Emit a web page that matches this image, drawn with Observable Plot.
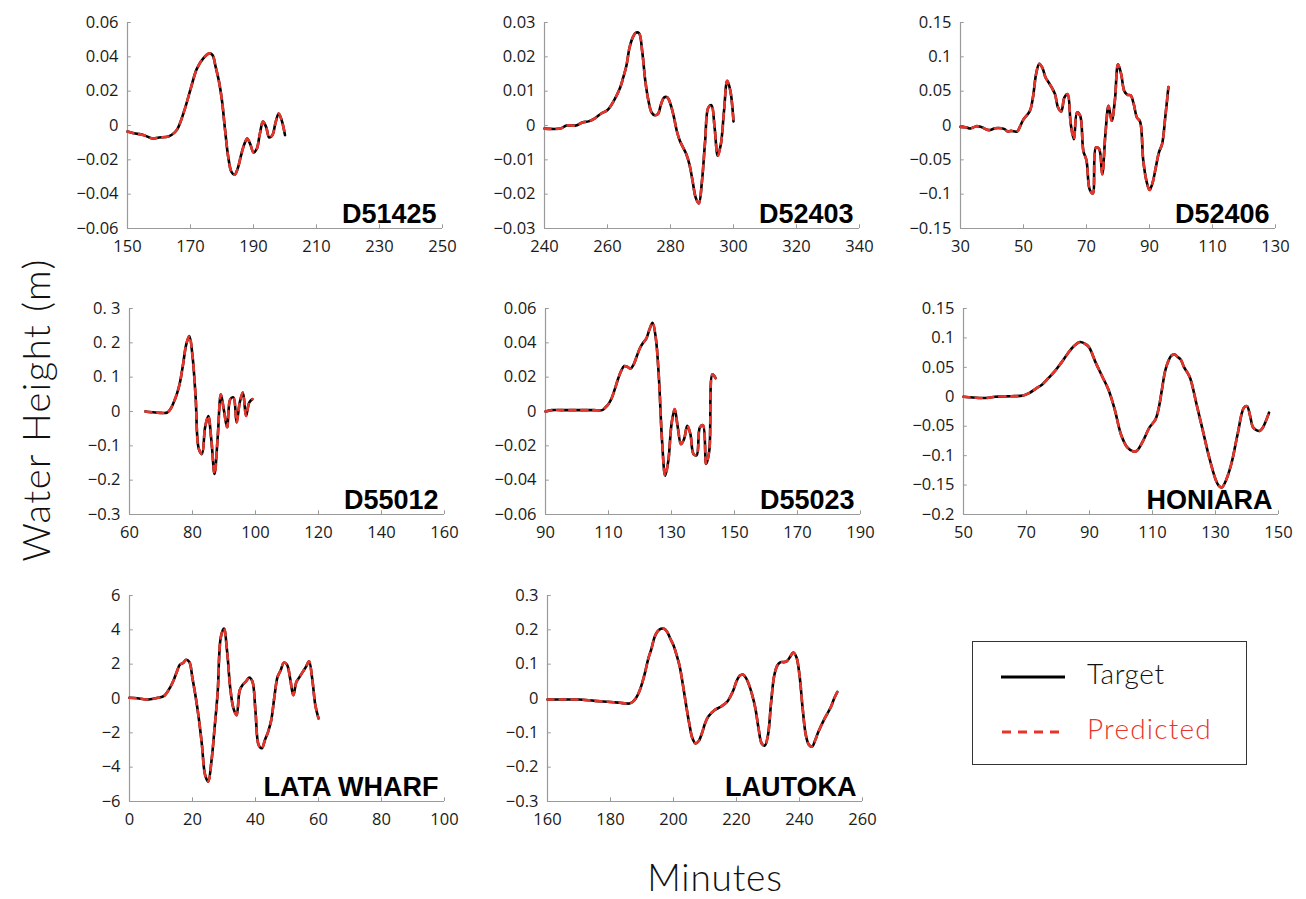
<!DOCTYPE html>
<html>
<head>
<meta charset="utf-8">
<script src="https://cdn.jsdelivr.net/npm/d3@7"></script>
<script src="https://cdn.jsdelivr.net/npm/@observablehq/plot@0.6"></script>
<style>
  html, body { margin: 0; padding: 0; background: #fff; }
  #root { position: relative; width: 1306px; height: 899px; overflow: hidden; font-family: "Open Sans", sans-serif; }
  .panel { position: absolute; }
  .ytitle { position: absolute; left: 36px; top: 410px; transform: translate(-50%, -50%) rotate(-90deg); transform-origin: center; white-space: nowrap; font-family: Lato, "Open Sans", sans-serif; font-weight: 300; font-size: 38px; letter-spacing: 1.5px; color: #111; line-height: 1.1; }
  .xtitle { position: absolute; left: 715px; top: 877px; transform: translate(-50%, -50%); white-space: nowrap; font-family: Lato, "Open Sans", sans-serif; font-weight: 300; font-size: 37px; letter-spacing: 0.8px; color: #111; line-height: 1.05; }
  .legend { position: absolute; left: 972px; top: 641px; width: 275px; height: 124px; border: 1.5px solid #333; box-sizing: border-box; background: #fff; }
</style>
</head>
<body>
<div id="root"></div>
<script>
// ---------- DATA ----------
const names = ["D51425", "D52403", "D52406", "D55012", "D55023", "HONIARA", "LATA WHARF", "LAUTOKA"];

const t_D51425 = [150,152,155,158,160,163,165,166,168,170,172,174,176,177,178,179,180,181,182,183,184,185,186,187,188,189,190,191,192,193,194,195,196,197,198,199,200];
const h_D51425 = [-0.0035,-0.0045,-0.0055,-0.0076,-0.007,-0.0064,-0.004,-0.0015,0.0085,0.021,0.033,0.039,0.042,0.041,0.034,0.026,0.0144,-0.003,-0.0186,-0.027,-0.0287,-0.025,-0.0177,-0.0113,-0.0076,-0.011,-0.0157,-0.0138,-0.005,0.0023,-0.0008,-0.007,-0.0056,0.0017,0.007,0.0027,-0.0056];

const t_D52403 = [240,245,247,250,252,254,256,258,260,262,264,265,266,267,268,269,270,271,272,273,274,275,276,277,278,279,280,281,282,283,284,285,286,287,288,289,290,291,292,293,294,295,296,297,298,299,300];
const h_D52403 = [-0.0009,-0.0009,0,0,0.0009,0.0012,0.0021,0.0035,0.0045,0.0072,0.011,0.014,0.0174,0.0227,0.0256,0.027,0.0269,0.0217,0.013,0.0072,0.0038,0.003,0.0033,0.0062,0.0082,0.0082,0.0062,0.0028,-0.0016,-0.0045,-0.0064,-0.0083,-0.0113,-0.0161,-0.021,-0.0227,-0.0161,-0.0045,0.0052,0.0059,-0.0006,-0.0088,-0.0054,0.0043,0.013,0.0101,0.0012];

const t_D52406 = [30,32,33,35,36,37,39,41,43,44,45,46,48,49,50,52,53,54,55,56,57,58,59,60,61,62,63,64,65,66,67,68,69,70,71,72,73,74,75,76,77,78,79,80,81,82,83,84,85,86,87,88,89,90,91,92,93,94,95,96];
const h_D52406 = [-0.002,-0.003,-0.0044,-0.001,-0.0015,-0.003,-0.0068,-0.004,-0.004,-0.0053,-0.0087,-0.0078,-0.0087,-0.0005,0.009,0.021,0.041,0.075,0.09,0.084,0.07,0.0626,0.055,0.0456,0.026,0.0204,0.041,0.0456,0.002,-0.02,0.019,0.014,-0.037,-0.051,-0.093,-0.099,-0.032,-0.034,-0.071,-0.0126,0.0286,0.0068,0.036,0.089,0.075,0.05,0.0447,0.044,0.031,0.0117,0.0058,-0.05,-0.08,-0.094,-0.083,-0.061,-0.039,-0.027,0.0117,0.056];

const t_D55012 = [65,67,70,72,73,74,75,76,77,78,79,80,81,82,83,84,85,86,87,88,89,90,91,92,93,94,95,96,97,98,99];
const h_D55012 = [0,-0.002,-0.004,-0.003,0.007,0.026,0.05,0.084,0.137,0.195,0.22,0.162,0.041,-0.109,-0.124,-0.046,-0.013,-0.085,-0.182,-0.075,0.05,0.002,-0.046,0.036,0.041,-0.032,0.026,0.055,-0.013,0.026,0.036];

const t_D55023 = [90,92,95,100,105,108,109,110,111,112,113,114,115,116,117,118,119,120,121,122,123,124,125,126,127,128,129,130,131,132,133,134,135,136,137,138,139,140,141,142,143,144];
const h_D55023 = [0,0.0008,0.0008,0.0008,0.0008,0.0008,0.0023,0.0043,0.0077,0.013,0.0188,0.0236,0.0265,0.026,0.025,0.0275,0.0323,0.037,0.04,0.0424,0.0478,0.0517,0.043,0.0197,-0.017,-0.0374,-0.0286,-0.0074,0.0014,-0.0093,-0.019,-0.016,-0.0083,-0.0132,-0.0248,-0.0254,-0.0093,-0.008,-0.0306,-0.0228,0.0217,0.0194];

const t_HONIARA = [50,55,58,60,65,69,71,73,75,77,79,81,83,85,87,89,90,92,94,96,98,100,102,104,105,107,109,111,112,113,114,115,116,117,118,119,120,121,122,124,126,128,130,131,132,133,135,137,139,140,141,142,144,145,147];
const h_HONIARA = [0,-0.002,-0.0017,0,0.001,0.002,0.0068,0.014,0.021,0.032,0.0435,0.0576,0.0728,0.0858,0.093,0.0886,0.083,0.0576,0.035,0.0124,-0.0214,-0.064,-0.086,-0.093,-0.092,-0.075,-0.0525,-0.038,-0.0186,0.0124,0.0435,0.0604,0.07,0.0717,0.0677,0.063,0.0503,0.0418,0.031,-0.013,-0.058,-0.103,-0.14,-0.151,-0.154,-0.146,-0.1146,-0.064,-0.0186,-0.0158,-0.0327,-0.0525,-0.058,-0.0525,-0.027];

const t_LATA = [0,3,6,9,11,13,14,15,16,17,18,19,20,21,22,23,24,25,26,27,28,29,30,31,32,33,34,35,36,37,38,39,40,41,42,43,44,45,46,47,48,49,50,51,52,53,54,55,56,57,58,59,60];
const h_LATA = [0.04,0,-0.06,0.04,0.15,0.68,1.06,1.55,1.97,2.07,2.26,2.13,1.16,0.1,-1.16,-2.71,-4.45,-4.84,-3.68,-1.74,0.39,3.58,4.07,2.71,0.58,-0.58,-0.97,0.48,0.81,1.0,1.22,1.0,-0.77,-2.71,-2.9,-2.42,-1.94,-1.26,0.1,1.26,1.65,2.09,1.97,1.16,0.19,0.97,1.26,1.55,1.84,2.17,1.16,-0.39,-1.16];

const t_LAUTOKA = [160,165,170,175,180,183,185,186,187,188,189,190,191,192,193,194,195,196,197,198,199,200,201,202,203,204,205,206,207,208,209,210,211,213,215,217,218,219,220,221,222,223,224,225,226,227,228,229,230,231,232,233,234,235,236,237,238,239,240,241,242,243,244,245,246,248,250,251,252];
const h_LAUTOKA = [-0.003,-0.003,-0.003,-0.007,-0.01,-0.0126,-0.0145,-0.0145,-0.01,0,0.0174,0.0436,0.077,0.116,0.145,0.179,0.196,0.203,0.203,0.194,0.174,0.155,0.126,0.092,0.039,-0.019,-0.073,-0.116,-0.131,-0.124,-0.102,-0.073,-0.053,-0.034,-0.024,-0.01,0.005,0.024,0.05,0.066,0.07,0.06,0.039,0.01,-0.029,-0.087,-0.131,-0.137,-0.106,-0.01,0.068,0.097,0.106,0.106,0.109,0.121,0.134,0.121,0.068,-0.029,-0.106,-0.135,-0.14,-0.121,-0.097,-0.058,-0.024,0,0.019];

// predicted series overlap the targets in the picture
const times = [t_D51425, t_D52403, t_D52406, t_D55012, t_D55023, t_HONIARA, t_LATA, t_LAUTOKA];
const targets = [h_D51425, h_D52403, h_D52406, h_D55012, h_D55023, h_HONIARA, h_LATA, h_LAUTOKA];
const predicted = [h_D51425, h_D52403, h_D52406, h_D55012, h_D55023, h_HONIARA, h_LATA, h_LAUTOKA];

// axis ticks
const xTicks = [
  [150,170,190,210,230,250],
  [240,260,280,300,320,340],
  [30,50,70,90,110,130],
  [60,80,100,120,140,160],
  [90,110,130,150,170,190],
  [50,70,90,110,130,150],
  [0,20,40,60,80,100],
  [160,180,200,220,240,260]
];
const yTicks = [
  [-0.06,-0.04,-0.02,0,0.02,0.04,0.06],
  [-0.03,-0.02,-0.01,0,0.01,0.02,0.03],
  [-0.15,-0.1,-0.05,0,0.05,0.1,0.15],
  [-0.3,-0.2,-0.1,0,0.1,0.2,0.3],
  [-0.06,-0.04,-0.02,0,0.02,0.04,0.06],
  [-0.2,-0.15,-0.1,-0.05,0,0.05,0.1,0.15],
  [-6,-4,-2,0,2,4,6],
  [-0.3,-0.2,-0.1,0,0.1,0.2,0.3]
];
const yTickLabels = [
  ["−0.06","−0.04","−0.02","0","0.02","0.04","0.06"],
  ["−0.03","−0.02","−0.01","0","0.01","0.02","0.03"],
  ["−0.15","−0.1","−0.05","0","0.05","0.1","0.15"],
  ["−0.3","−0.2","−0.1","0","0. 1","0. 2","0. 3"],
  ["−0.06","−0.04","−0.02","0","0.02","0.04","0.06"],
  ["−0.2","−0.15","−0.1","−0.05","0","0.05","0.1","0.15"],
  ["−6","−4","−2","0","2","4","6"],
  ["−0.3","−0.2","−0.1","0","0.1","0.2","0.3"]
];
const legendLabels = ["Target", "Predicted"];

// ---------- LAYOUT (inner frame positions) ----------
const frames = [
  [126.5, 21.5], [543.5, 21.5], [960, 21.5],
  [128.5, 307.5], [545, 307.5], [962.5, 307.5],
  [129, 595], [546.5, 595]
];
const W = 315, H = 206;
const ml = 70, mr = 12, mt = 12, mb = 36;
const RED = "#e8352b";
const AX = "#9a9a9a";

const root = document.getElementById("root");

names.forEach((name, i) => {
  const data = times[i].map((t, j) => ({t, target: targets[i][j], pred: predicted[i][j]}));
  const xt = xTicks[i], yt = yTicks[i];
  const xmin = xt[0], xmax = xt[xt.length - 1];
  const ymin = yt[0], ymax = yt[yt.length - 1];
  const xspan = xmax - xmin, yspan = ymax - ymin;
  const plot = Plot.plot({
    width: W + ml + mr,
    height: H + mt + mb,
    marginLeft: ml, marginRight: mr, marginTop: mt, marginBottom: mb,
    style: {fontFamily: "'Open Sans', sans-serif", fontSize: "16.5px", color: "#1a1a1a", background: "transparent", overflow: "visible"},
    x: {domain: [xmin, xmax], ticks: xt, tickSize: 0, tickPadding: 12, tickFormat: d => String(d), label: null},
    y: {domain: [ymin, ymax], ticks: yt, tickSize: 0, tickPadding: 9, tickFormat: (d) => yTickLabels[i][yt.indexOf(d)], label: null},
    marks: [
      Plot.ruleX([xmin], {stroke: AX, strokeWidth: 1.2}),
      Plot.ruleY([ymin], {stroke: AX, strokeWidth: 1.2}),
      Plot.ruleX(xt.slice(1), {x: d => d, y1: ymin, y2: ymin + yspan * 0.018, stroke: AX}),
      Plot.ruleY(yt.slice(1), {y: d => d, x1: xmin, x2: xmin + xspan * 0.012, stroke: AX}),
      Plot.line(data, {x: "t", y: "target", stroke: "#000", strokeWidth: 2.6, curve: "catmull-rom"}),
      Plot.line(data, {x: "t", y: "pred", stroke: RED, strokeWidth: 2.6, strokeDasharray: "6,6", curve: "catmull-rom"}),
      Plot.text([name], {text: d => d, frameAnchor: "bottom-right", textAnchor: "end", lineAnchor: "bottom", dx: -6, dy: -6, fontSize: 27, fontWeight: "bold", fontFamily: "'Liberation Sans', Arial, sans-serif", fill: "#000"})
    ]
  });
  const div = document.createElement("div");
  div.className = "panel";
  div.style.left = (frames[i][0] - ml) + "px";
  div.style.top = (frames[i][1] - mt) + "px";
  div.appendChild(plot);
  root.appendChild(div);
});

// axis titles
const yt = document.createElement("div");
yt.className = "ytitle";
yt.textContent = "Water Height (m)";
root.appendChild(yt);
const xtl = document.createElement("div");
xtl.className = "xtitle";
xtl.textContent = "Minutes";
root.appendChild(xtl);

// legend
const leg = document.createElement("div");
leg.className = "legend";
leg.innerHTML = `
<svg width="272" height="121" style="position:absolute;left:0;top:0">
  <line x1="28" x2="92" y1="35" y2="35" stroke="#000" stroke-width="3.2"/>
  <text x="114" y="42" font-family="Lato, 'Open Sans', sans-serif" font-weight="300" font-size="28" letter-spacing="0.6" fill="#111">${legendLabels[0]}</text>
  <line x1="29" x2="87" y1="90" y2="90" stroke="${RED}" stroke-width="3.2" stroke-dasharray="9,7"/>
  <text x="114" y="97" font-family="Lato, 'Open Sans', sans-serif" font-weight="300" font-size="28" letter-spacing="1.2" fill="${RED}">${legendLabels[1]}</text>
</svg>`;
root.appendChild(leg);
</script>
</body>
</html>
